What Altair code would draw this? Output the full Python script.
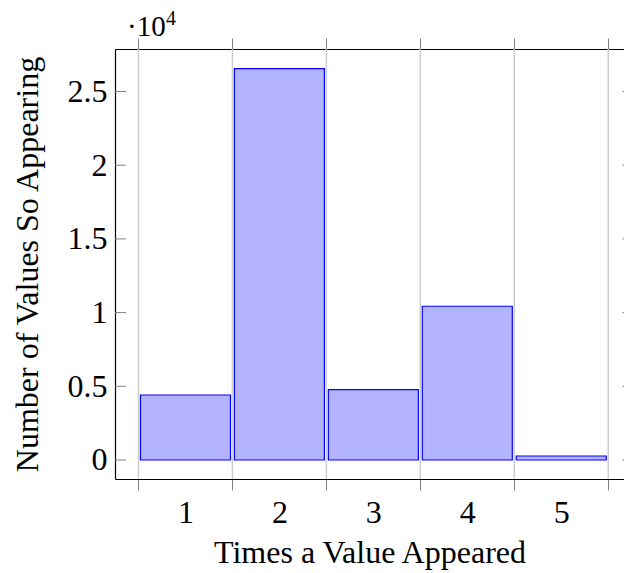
import altair as alt
import pandas as pd

# ---- data ----
times = [1, 2, 3, 4, 5]
counts = [4410, 26550, 4770, 10430, 270]
y_tick_values = [0, 5000, 10000, 15000, 20000, 25000]
x_bounds = [0.5, 1.5, 2.5, 3.5, 4.5, 5.5]
x_label_values = [1, 2, 3, 4, 5]

bars_df = pd.DataFrame({"times": times, "count": counts})
bounds_df = pd.DataFrame({"b": x_bounds})
yticks_df = pd.DataFrame({"v": y_tick_values})
one_df = pd.DataFrame({"k": [0]})

FONT = "Liberation Serif, Times New Roman, Times, DejaVu Serif, serif"
FS = 32
W, H = 509, 430
XDOM = [0.25, 5.668]
YDOM = [-1289, 27883]

xscale = alt.Scale(domain=XDOM, nice=False, zero=False, padding=0)
yscale = alt.Scale(domain=YDOM, nice=False, zero=False, padding=0)

bottom_axis = alt.Axis(
    orient="bottom",
    values=sorted(x_bounds + x_label_values),
    labelExpr="datum.value % 1 === 0 ? '' + datum.value : ''",
    tickOpacity={"condition": {"test": "datum.value % 1 === 0", "value": 0}, "value": 1},
    tickSize=11, tickColor="#808080", tickWidth=1,
    domainColor="black", domainWidth=1.2,
    labelFont=FONT, labelFontSize=FS, labelColor="black", labelPadding=7,
    labelAngle=0,
    title="Times a Value Appeared", titleFont=FONT, titleFontSize=FS,
    titleFontWeight="normal", titleColor="black", titlePadding=9,
    grid=False,
)

top_axis = alt.Axis(
    orient="top", values=x_bounds, labels=False,
    tickSize=11, tickColor="#808080", tickWidth=1,
    domainColor="black", domainWidth=1.2, title=None, grid=False,
)

left_axis = alt.Axis(
    orient="left", values=y_tick_values,
    labelExpr="'' + datum.value / 10000",
    ticks=False, tickSize=0,
    domainColor="black", domainWidth=1.2,
    labelFont=FONT, labelFontSize=FS, labelColor="black", labelPadding=8,
    title="Number of Values So Appearing", titleFont=FONT, titleFontSize=FS,
    titleFontWeight="normal", titleColor="black", titlePadding=23,
    grid=False,
)

grid = alt.Chart(bounds_df).mark_rule(color="#cccccc", strokeWidth=1.5).encode(
    x=alt.X("b:Q", scale=xscale, axis=top_axis)
)

bars = alt.Chart(bars_df).mark_bar(
    fill="#b3b3ff", stroke="#0000ff", strokeWidth=1.2, size=90
).encode(
    x=alt.X("times:Q", scale=xscale, axis=bottom_axis),
    y=alt.Y("count:Q", scale=yscale, axis=left_axis),
    y2=alt.datum(0),
)

left_ticks = alt.Chart(yticks_df).mark_rule(color="#808080", strokeWidth=1).encode(
    y=alt.Y("v:Q", scale=yscale, axis=left_axis),
    x=alt.value(0), x2=alt.value(11),
)

right_ticks = alt.Chart(yticks_df).mark_rule(color="#808080", strokeWidth=1).encode(
    y=alt.Y("v:Q", scale=yscale, axis=left_axis),
    x=alt.value(W - 1.5), x2=alt.value(W),
)

mult = alt.Chart(one_df).mark_text(
    text="·10", font=FONT, fontSize=29, align="left", baseline="alphabetic", color="black"
).encode(x=alt.value(12), y=alt.value(-13))

expo = alt.Chart(one_df).mark_text(
    text="4", font=FONT, fontSize=20, align="left", baseline="alphabetic", color="black"
).encode(x=alt.value(51), y=alt.value(-24))

chart = alt.layer(grid, bars, left_ticks, right_ticks, mult, expo).resolve_axis(
    x="independent"
).properties(
    width=W, height=H,
    autosize=alt.AutoSizeParams(type="none"),
    padding={"left": 115, "top": 49, "right": 0, "bottom": 94},
    background="white",
).configure_view(stroke=None)

chart.save("out.html", embed_options={"renderer": "svg", "actions": False})
